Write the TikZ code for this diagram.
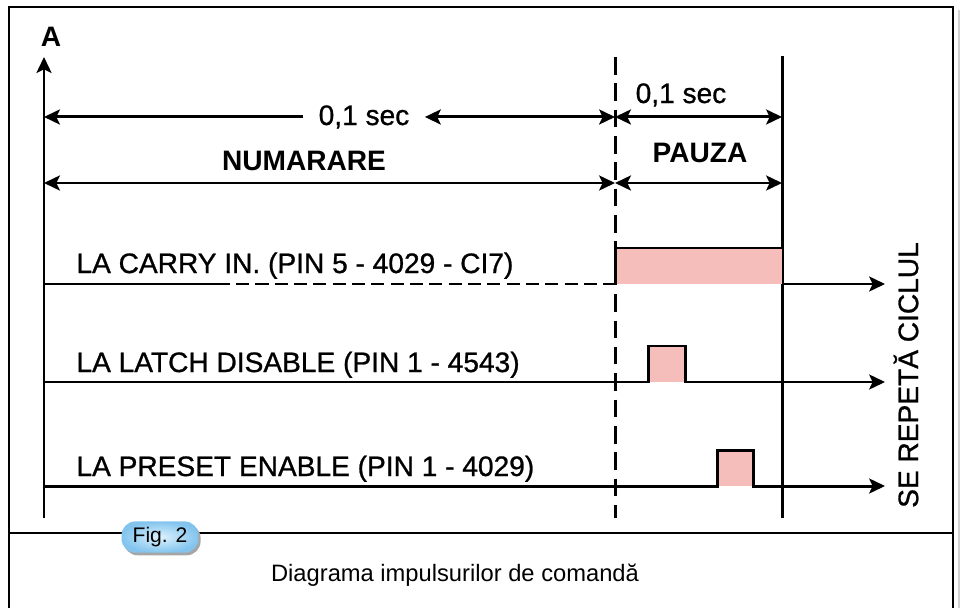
\documentclass[tikz,border=0pt]{standalone}
\usepackage{fontspec}
\setmainfont{Liberation Sans}
\newfontfamily\medfont{Liberation Sans}[FakeBold=0.9]
\usepackage{tikz}
\usetikzlibrary{arrows.meta, shadows}

\definecolor{roz}{RGB}{245,190,186}
\definecolor{figblue}{RGB}{130,196,238}
\definecolor{figlight}{RGB}{222,242,253}

\begin{document}
\begin{tikzpicture}[x=0.02cm, y=-0.02cm, line width=1.7pt,
    eticheta/.style = {font=\medfont\fontsize{16}{19}\selectfont, inner sep=0pt},
    titlu/.style = {font=\fontsize{16}{19}\selectfont\bfseries, inner sep=0pt},
    cota/.style = {font=\medfont\fontsize{16}{19}\selectfont, inner xsep=8pt, inner ysep=0pt},
    sp/.style = {-{Stealth[length=9pt,width=8.5pt,inset=2pt]}},
    ambele/.style = {{Stealth[length=9pt,width=8.5pt,inset=2pt]}-{Stealth[length=9pt,width=8.5pt,inset=2pt]}},
    intrerupt/.style = {dash pattern=on 7.5pt off 3.5pt},
    fig/.style = {rectangle, rounded corners=8pt, minimum width=1.54cm, minimum height=0.58cm,
        inner color=figlight, outer color=figblue,
        drop shadow={shadow xshift=1.2pt, shadow yshift=-1.5pt, fill=gray!70, opacity=1},
        font=\fontsize{12}{14}\selectfont}]
    \useasboundingbox (0,0) rectangle (962,608);

    % cadru
    \draw[line width=1.1pt] (9,608) -- (9,7) -- (953,7) -- (953,608);
    \draw[line width=1pt, gray!35] (959,10) -- (959,608);
    \draw[line width=1.1pt] (9,533) -- (953,533);

    % axe si repere
    \coordinate (O) at (44,518);
    \coordinate (Ov) at (44,57);
    \coordinate (D) at (615,518);
    \coordinate (Dv) at (615,57);
    \coordinate (S) at (782,518);
    \coordinate (Sv) at (782,56);
    \coordinate (r2) at (0,183);

    \node[titlu] at (51,37) (A) {A};
    \draw[sp] (O) -- (Ov);
    \draw[intrerupt, dash pattern=on 10pt off 5pt] (Dv) -- (D);
    \draw (Sv) -- (S);

    \node[cota, anchor=base] at (364,125) (t1) {0,1 sec};
    \node[eticheta, anchor=base] at (681,103) (t2) {0,1 sec};
    \node[titlu, anchor=base] at (304,170) (num) {NUMARARE};
    \node[titlu, anchor=base] at (700,162) (pauza) {PAUZA};

    \draw[sp] (t1) -- (t1 -| O);
    \draw[ambele] (t1) -- (t1 -| D);
    \draw[ambele] (t1 -| D) -- (t1 -| S);
    \draw[ambele] (r2 -| O) -- (r2 -| D);
    \draw[ambele] (r2 -| D) -- (r2 -| S);

    % semnale
    \node[eticheta, anchor=base west] at (75,273) (carry) {LA CARRY IN. (PIN 5 - 4029 - CI7)};
    \node[eticheta, anchor=base west] at (75,372) (latch) {LA LATCH DISABLE (PIN 1 - 4543)};
    \node[eticheta, anchor=base west] at (75,476) (preset) {LA PRESET ENABLE (PIN 1 - 4029)};

    \fill[roz] (615,248) rectangle (782,284);
    \fill[roz] (648,346) rectangle (685,382);
    \fill[roz] (717,450) rectangle (753,486);

    \draw (44,284) -- (230,284);
    \draw[intrerupt] (236,284) -- (615,284);
    \draw (615,284) -- (615,248) -- (782,248);
    \draw[sp] (782,284) -- (885,284);
    \draw[sp] (44,382) -- (648,382) -- (648,346) -- (685,346) -- (685,382) -- (885,382);
    \draw[sp] (44,486) -- (717,486) -- (717,450) -- (753,450) -- (753,486) -- (885,486);

    \node[eticheta, rotate=90] at (906,375) (ciclu) {SE REPETĂ CICLUL};

    % legenda
    \node[fig] at (160,537) (fig2) {Fig. 2};
    \node[font=\fontsize{13.5}{16}\selectfont, anchor=base] at (455,581) (titlu) {Diagrama impulsurilor de comandă};
\end{tikzpicture}
\end{document}
